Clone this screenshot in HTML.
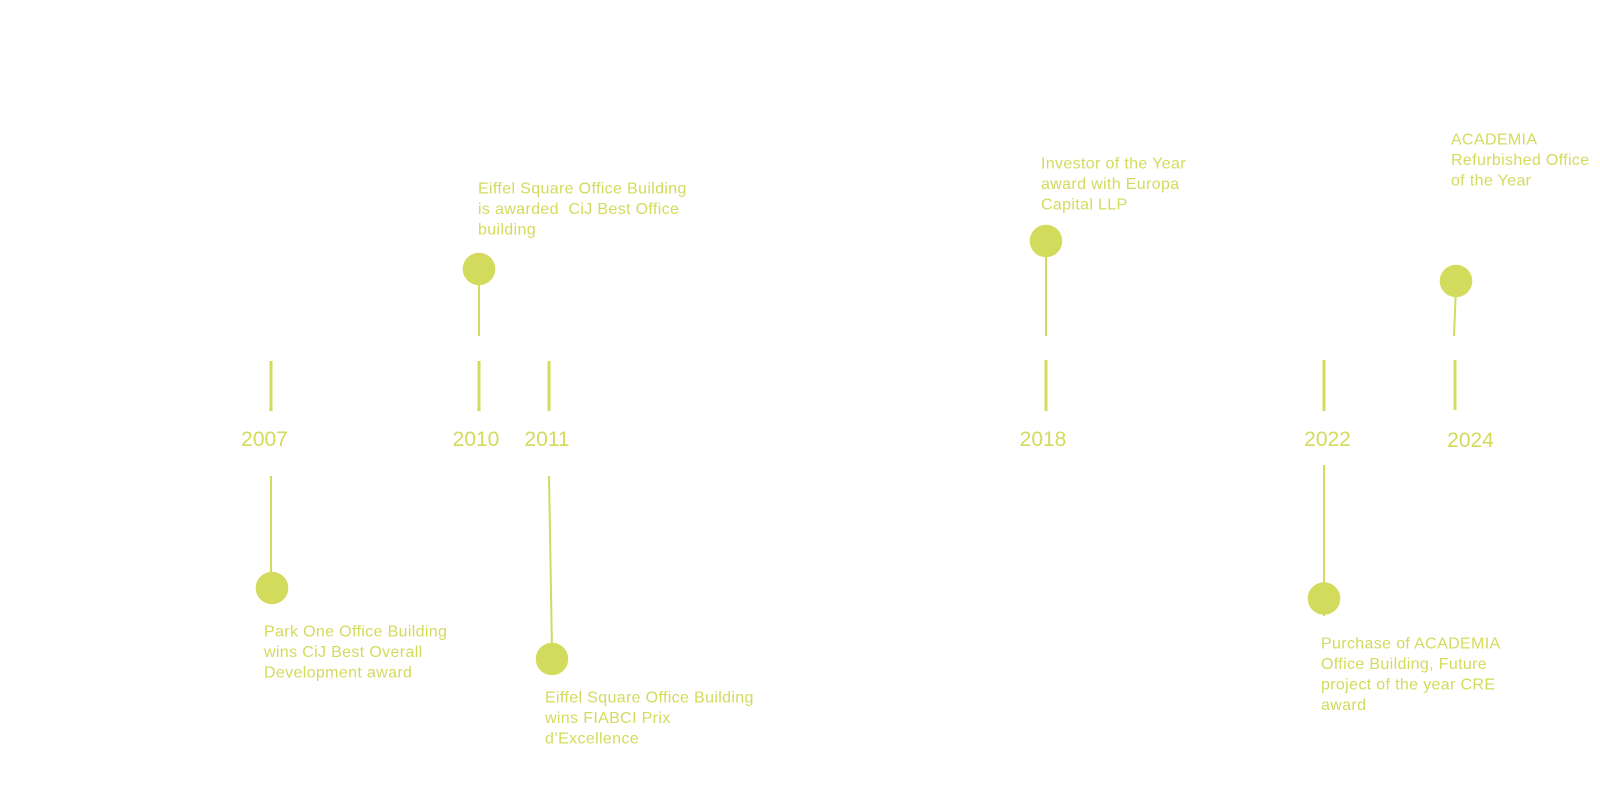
<!DOCTYPE html>
<html>
<head>
<meta charset="utf-8">
<style>
  html, body { margin:0; padding:0; background:#ffffff; }
  body { width:1600px; height:788px; overflow:hidden; }
  svg { display:block; }
  .t { font-family: "Liberation Sans", "DejaVu Sans", sans-serif; font-size:16px; letter-spacing:0.35px; fill:#d3db5c; }
  .y { font-family: "Liberation Sans", "DejaVu Sans", sans-serif; font-size:21px; fill:#d3db5c; text-anchor:middle; }
</style>
</head>
<body>
<svg width="1600" height="788" viewBox="0 0 1600 788" xmlns="http://www.w3.org/2000/svg">
  <g stroke="#d3db5c" fill="none" stroke-linecap="butt">
    <!-- ticks -->
    <line x1="271" y1="361" x2="271" y2="411" stroke-width="3"/>
    <line x1="479" y1="361" x2="479" y2="411" stroke-width="3"/>
    <line x1="549" y1="361" x2="549" y2="411" stroke-width="3"/>
    <line x1="1046" y1="360" x2="1046" y2="411" stroke-width="3"/>
    <line x1="1324" y1="360" x2="1324" y2="411" stroke-width="3"/>
    <line x1="1455" y1="360" x2="1455" y2="410" stroke-width="3"/>
    <!-- connectors -->
    <line x1="271" y1="476" x2="271" y2="580" stroke-width="2"/>
    <line x1="479" y1="275" x2="479" y2="336" stroke-width="2"/>
    <line x1="549" y1="476" x2="552" y2="650" stroke-width="2"/>
    <line x1="1046" y1="247" x2="1046" y2="336" stroke-width="2"/>
    <line x1="1324" y1="465" x2="1324" y2="616" stroke-width="2"/>
    <line x1="1456" y1="287" x2="1454" y2="336" stroke-width="2"/>
  </g>
  <g fill="#d3db5c">
    <circle cx="272" cy="588" r="16.3"/>
    <circle cx="479" cy="269" r="16.3"/>
    <circle cx="552" cy="659" r="16.3"/>
    <circle cx="1046" cy="241" r="16.3"/>
    <circle cx="1324" cy="598.5" r="16.3"/>
    <circle cx="1456" cy="281" r="16.3"/>
  </g>

  <!-- years -->
  <text class="y" x="264.5" y="446">2007</text>
  <text class="y" x="476" y="446">2010</text>
  <text class="y" x="547" y="446">2011</text>
  <text class="y" x="1043" y="446">2018</text>
  <text class="y" x="1327.5" y="446">2022</text>
  <text class="y" x="1470.5" y="447">2024</text>

  <!-- descriptions -->
  <text class="t" x="478" y="193.5">Eiffel Square Office Building</text>
  <text class="t" x="478" y="214">is awarded &#160;CiJ Best Office</text>
  <text class="t" x="478" y="234.5">building</text>

  <text class="t" x="264" y="636.5">Park One Office Building</text>
  <text class="t" x="264" y="657">wins CiJ Best Overall</text>
  <text class="t" x="264" y="677.5">Development award</text>

  <text class="t" x="545" y="702.5">Eiffel Square Office Building</text>
  <text class="t" x="545" y="723">wins FIABCI Prix</text>
  <text class="t" x="545" y="743.5">d’Excellence</text>

  <text class="t" x="1041" y="168.5">Investor of the Year</text>
  <text class="t" x="1041" y="189">award with Europa</text>
  <text class="t" x="1041" y="209.5">Capital LLP</text>

  <text class="t" x="1451" y="144.5">ACADEMIA</text>
  <text class="t" x="1451" y="165">Refurbished Office</text>
  <text class="t" x="1451" y="185.5">of the Year</text>

  <text class="t" x="1321" y="648.5">Purchase of ACADEMIA</text>
  <text class="t" x="1321" y="669">Office Building, Future</text>
  <text class="t" x="1321" y="689.5">project of the year CRE</text>
  <text class="t" x="1321" y="710">award</text>
</svg>
</body>
</html>
